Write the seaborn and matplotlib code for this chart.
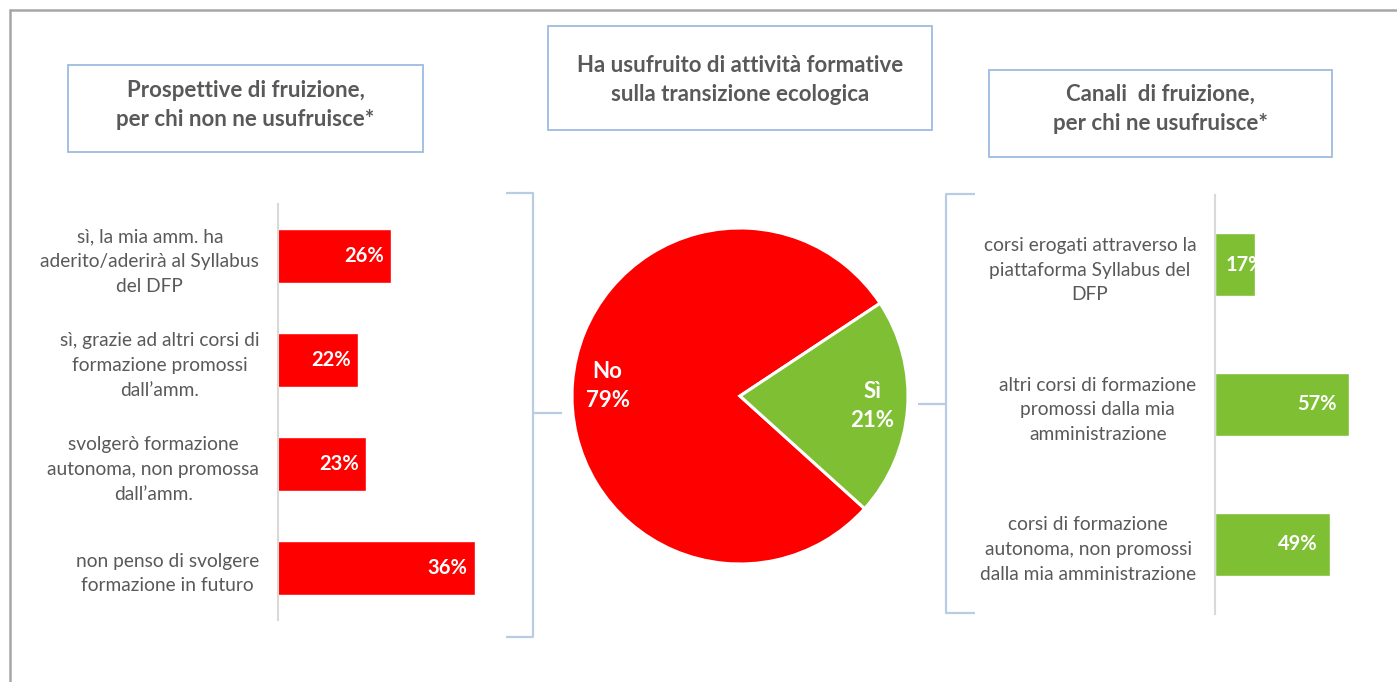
import matplotlib
matplotlib.use("Agg")
import matplotlib.pyplot as plt
from matplotlib.lines import Line2D
from matplotlib.patches import Rectangle
import seaborn as sns

# ---------------- data ----------------
left_categories = [
    "sì, la mia amm. ha\naderito/aderirà al Syllabus\ndel DFP",
    "sì, grazie ad altri corsi di\nformazione promossi\ndall’amm.",
    "svolgerò formazione\nautonoma, non promossa\ndall’amm.",
    "non penso di svolgere\nformazione in futuro",
]
left_values = [26, 22, 23, 36]

pie_labels = ["No", "Sì"]
pie_values = [79, 21]

right_categories = [
    "corsi erogati attraverso la\npiattaforma Syllabus del\nDFP",
    "altri corsi di formazione\npromossi dalla mia\namministrazione",
    "corsi di formazione\nautonoma, non promossi\ndalla mia amministrazione",
]
right_values = [17, 57, 49]

title_left = "Prospettive di fruizione,\nper chi non ne usufruisce*"
title_center = "Ha usufruito di attività formative\nsulla transizione ecologica"
title_right = "Canali  di fruizione,\nper chi ne usufruisce*"

# ---------------- style ----------------
sns.set_theme(style="white")
plt.rcParams["font.family"] = ["Lato", "DejaVu Sans"]

RED = "#ff0000"
GREEN = "#7fbf34"
TXT = "#595959"
BOX = "#9dbbe0"
BRK = "#b8cce4"
AXL = "#d9d9d9"

W, H = 1397, 682
fig = plt.figure(figsize=(W / 100, H / 100), dpi=100)
fig.patch.set_facecolor("white")


def fx(x):
    return x / W


def fy(y):
    return 1 - y / H


def px_axes(x0, y0, x1, y1):
    return fig.add_axes([fx(x0), fy(y1), fx(x1) - fx(x0), (y1 - y0) / H])


# outer frame
fig.add_artist(Line2D([fx(10), fx(10)], [fy(10), fy(H + 5)], transform=fig.transFigure,
                      color="#a6a6a6", lw=1.8))
fig.add_artist(Line2D([fx(10), fx(W + 5)], [fy(10), fy(10)], transform=fig.transFigure,
                      color="#a6a6a6", lw=1.8))


def title_box(x0, y0, x1, y1, ty, text):
    fig.add_artist(Rectangle((fx(x0), fy(y1)), fx(x1) - fx(x0), (y1 - y0) / H,
                             transform=fig.transFigure, fill=False, edgecolor=BOX, lw=1.3))
    fig.text(fx((x0 + x1) / 2), fy(ty), text, ha="center", va="center",
             fontsize=16, fontweight="bold", color=TXT, linespacing=1.45)


title_box(68, 65, 423, 152, 105, title_left)
title_box(548, 26, 932, 130, 80, title_center)
title_box(989, 70, 1332, 157, 109, title_right)


def style_bar_axes(ax):
    for s in ["top", "right", "bottom"]:
        ax.spines[s].set_visible(False)
    ax.spines["left"].set_color(AXL)
    ax.spines["left"].set_linewidth(1.5)
    ax.set_xticks([])
    ax.set_xlabel("")
    ax.set_ylabel("")
    ax.tick_params(axis="y", length=0, pad=13.5, labelsize=13.8, labelcolor=TXT)
    for t in ax.get_yticklabels():
        t.set_multialignment("center")
        t.set_linespacing(1.55)
    ax.set_facecolor("none")


def bar_labels(ax, values, offset_pt, min_pad_pt):
    """Inside-end labels; if the bar is too short, start near the base, clipped by the bar."""
    fig.canvas.draw()
    renderer = fig.canvas.get_renderer()
    for patch, v in zip(ax.patches, values):
        i = patch.get_y() + patch.get_height() / 2
        t = ax.annotate(f"{v}%", (v, i), xytext=(-offset_pt, 0), textcoords="offset points",
                        ha="right", va="center", color="white", fontweight="bold",
                        fontsize=14.5)
        tw = t.get_window_extent(renderer).width
        bar_px = ax.transData.transform((v, 0))[0] - ax.transAxes.transform((0, 0))[0]
        if bar_px < tw + (offset_pt + min_pad_pt) * 100 / 72:
            t.remove()
            t = ax.annotate(f"{v}%", (0, 0), xycoords="axes fraction",
                            xytext=(min_pad_pt, 0), textcoords="offset points",
                            ha="left", va="center", color="white", fontweight="bold",
                            fontsize=14.5)
            t.xy = (0, ax.transAxes.inverted().transform(ax.transData.transform((0, i)))[1])
        t.set_clip_path(patch)


# ---------------- left bars ----------------
axL = px_axes(278, 204, 520, 620)
sns.barplot(x=left_values, y=left_categories, orient="h", color=RED, width=0.52,
            saturation=1, ax=axL)
axL.set_xlim(12.4, 12.4 + 242 / 8.33)
axL.set_ylim(len(left_values) - 0.5, -0.5)
style_bar_axes(axL)

# ---------------- right bars ----------------
axR = px_axes(1215, 195, 1390, 614)
sns.barplot(x=right_values, y=right_categories, orient="h", color=GREEN, width=0.45,
            saturation=1, ax=axR)
axR.set_xlim(0, 175 / 2.35)
axR.set_ylim(len(right_values) - 0.5, -0.5)
style_bar_axes(axR)

# ---------------- pie ----------------
axP = px_axes(740 - 175, 396 - 175, 740 + 175, 396 + 175)
wedges, texts, autotexts = axP.pie(
    pie_values, colors=[RED, GREEN], startangle=33.5, counterclock=True,
    autopct="%1.0f%%", pctdistance=0.79,
    wedgeprops=dict(edgecolor="white", linewidth=2.2),
    textprops=dict(color="white", fontweight="bold", fontsize=16),
)
for t, lab, v in zip(autotexts, pie_labels, pie_values):
    t.set_text(f"{lab}\n{v}%")
    t.set_linespacing(1.5)
axP.set_xlim(-175 / 168, 175 / 168)
axP.set_ylim(-175 / 168, 175 / 168)
axP.set_aspect("equal")
axP.axis("off")

bar_labels(axL, left_values, 5, 8)
bar_labels(axR, right_values, 9, 8)

# ---------------- brackets ----------------
def line(xs, ys, color=BRK, lw=1.6):
    fig.add_artist(Line2D([fx(x) for x in xs], [fy(y) for y in ys],
                          transform=fig.transFigure, color=color, lw=lw,
                          solid_capstyle="butt"))


# left "]"
line([506, 533, 533, 506], [193, 193, 637, 637])
line([533, 562], [413, 413])
# right "["
line([975, 946, 946, 975], [194, 194, 613, 613])
line([918, 946], [404, 404])

fig.savefig("out.png", dpi=100, facecolor="white")
